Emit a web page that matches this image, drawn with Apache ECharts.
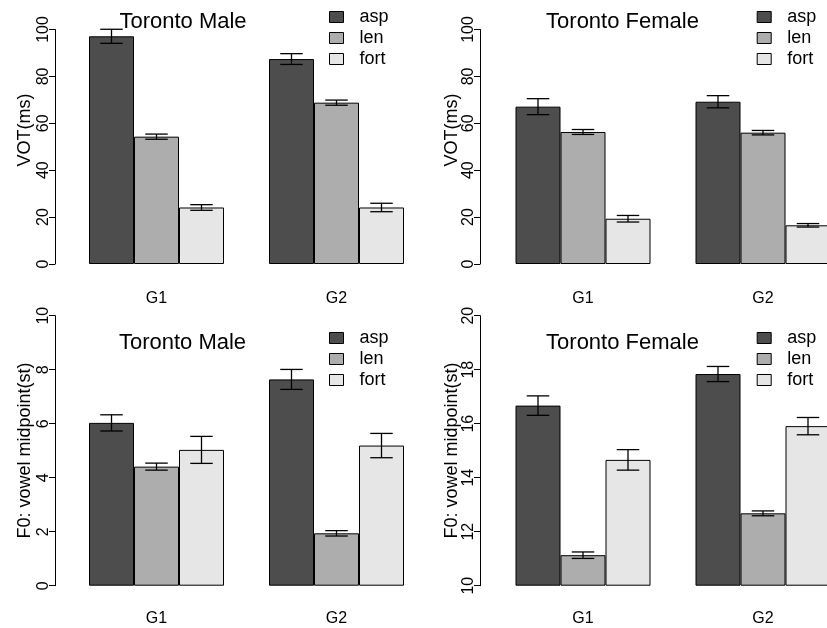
<!DOCTYPE html>
<html>
<head>
<meta charset="utf-8">
<script src="https://cdn.jsdelivr.net/npm/echarts@6/dist/echarts.min.js"></script>
<style>
html,body{margin:0;padding:0;background:#fff;}
#chart{width:827px;height:628px;}
</style>
</head>
<body>
<div id="chart"></div>
<script>
// ---- data ----
const categories = ['G1', 'G2'];
const seriesNames = ['asp', 'len', 'fort'];
const seriesColors = ['#4d4d4d', '#adadad', '#e6e6e6'];

// rows: asp, len, fort ; columns: G1, G2
const maleVotMean   = [[97.1, 87.4], [54.3, 68.8], [24.1, 24.1]];
const maleVotErr    = [[3.0, 2.3], [1.1, 1.1], [1.2, 1.8]];
const femaleVotMean = [[67.1, 69.2], [56.3, 56.0], [19.3, 16.5]];
const femaleVotErr  = [[3.4, 2.6], [1.05, 0.95], [1.4, 0.75]];
const maleF0Mean    = [[6.03, 7.64], [4.41, 1.94], [5.03, 5.19]];
const maleF0Err     = [[0.30, 0.37], [0.13, 0.10], [0.50, 0.45]];
const femaleF0Mean  = [[16.67, 17.84], [11.13, 12.68], [14.66, 15.91]];
const femaleF0Err   = [[0.36, 0.28], [0.12, 0.09], [0.38, 0.32]];

const votTicks = [0, 100, 20];     // min, max, interval
const maleF0Ticks = [0, 10, 2];
const femaleF0Ticks = [10, 20, 2];

const panelTitles = ['Toronto Male', 'Toronto Female', 'Toronto Male', 'Toronto Female'];
const yTitles = ['VOT(ms)', 'VOT(ms)', 'F0: vowel midpoint(st)', 'F0: vowel midpoint(st)'];

// ---- layout ----
const FONT = 'Liberation Sans, Arial, Helvetica, sans-serif';
const panels = [
  {mean: maleVotMean, err: maleVotErr, ticks: votTicks, grid: {left: 66.5, top: 29.5, width: 360, height: 234.5}, offset: 11.5, labelMargin: 27, legend: {left: 329, top: 8}, title: [183, 22], ytitle: [25, 130]},
  {mean: femaleVotMean, err: femaleVotErr, ticks: votTicks, grid: {left: 493, top: 29.5, width: 360, height: 234.5}, offset: 13, labelMargin: 27, legend: {left: 756.7, top: 8}, title: [622.5, 22], ytitle: [451.7, 130]},
  {mean: maleF0Mean, err: maleF0Err, ticks: maleF0Ticks, grid: {left: 66.5, top: 315.7, width: 360, height: 270}, offset: 11.5, labelMargin: 25, legend: {left: 329, top: 329}, title: [182.5, 343], ytitle: [25, 450.5]},
  {mean: femaleF0Mean, err: femaleF0Err, ticks: femaleF0Ticks, grid: {left: 493, top: 315.7, width: 360, height: 270}, offset: 13, labelMargin: 25, legend: {left: 756.7, top: 329}, title: [622.5, 343], ytitle: [451.7, 450.5]}
];

const grids = [], xAxes = [], yAxes = [], series = [], legends = [], graphics = [];

function errRender(k) {
  return function (params, api) {
    const c = api.value(0), lo = api.value(1), hi = api.value(2);
    const band = api.size([1, 0])[0];
    const bw = band * 0.25;
    const x = api.coord([c, lo])[0] + (k - 1) * bw;
    const yl = api.coord([c, lo])[1];
    const yh = api.coord([c, hi])[1];
    const hw = bw / 4;
    const st = {stroke: '#000', lineWidth: 1.3};
    return {
      type: 'group',
      children: [
        {type: 'line', shape: {x1: x, y1: yl, x2: x, y2: yh}, style: st},
        {type: 'line', shape: {x1: x - hw, y1: yl, x2: x + hw, y2: yl}, style: st},
        {type: 'line', shape: {x1: x - hw, y1: yh, x2: x + hw, y2: yh}, style: st}
      ]
    };
  };
}

panels.forEach(function (p, i) {
  grids.push(Object.assign({containLabel: false, outerBoundsMode: 'none'}, p.grid));
  xAxes.push({
    type: 'category', gridIndex: i, data: categories,
    axisLine: {show: false}, axisTick: {show: false}, splitLine: {show: false},
    axisLabel: {color: '#000', fontFamily: FONT, fontSize: 16, margin: p.labelMargin}
  });
  yAxes.push({
    type: 'value', gridIndex: i, min: p.ticks[0], max: p.ticks[1], interval: p.ticks[2],
    startValue: p.ticks[0],
    offset: p.offset,
    axisLine: {show: true, lineStyle: {color: '#000', width: 1}},
    axisTick: {show: true, inside: false, length: 6, lineStyle: {color: '#000'}},
    splitLine: {show: false},
    axisLabel: {color: '#000', fontFamily: FONT, fontSize: 16, rotate: 90, margin: 3}
  });
  seriesNames.forEach(function (name, k) {
    series.push({
      type: 'bar', name: name, xAxisIndex: i, yAxisIndex: i,
      data: p.mean[k], barWidth: '25%', barGap: '0%', clip: true,
      itemStyle: {color: seriesColors[k], borderColor: '#000', borderWidth: 1},
      emphasis: {disabled: true}, silent: true
    });
  });
  seriesNames.forEach(function (name, k) {
    series.push({
      type: 'custom', xAxisIndex: i, yAxisIndex: i, silent: true,
      renderItem: errRender(k),
      encode: {x: 0, y: [1, 2]},
      data: p.mean[k].map(function (m, c) { return [c, m - p.err[k][c], m + p.err[k][c]]; }),
      z: 10
    });
  });
  legends.push({
    orient: 'vertical', left: p.legend.left, top: p.legend.top, padding: 0,
    data: seriesNames, icon: 'rect', itemWidth: 14, itemHeight: 11, itemGap: 3,
    selectedMode: false,
    itemStyle: {borderColor: '#000', borderWidth: 1},
    textStyle: {color: '#000', fontFamily: FONT, fontSize: 18, lineHeight: 18, padding: [0, 0, 0, 11]}
  });
  graphics.push({
    type: 'text', x: p.title[0], y: p.title[1],
    style: {text: panelTitles[i], fill: '#000', font: '22px ' + FONT, textAlign: 'center', textVerticalAlign: 'middle'}
  });
  graphics.push({
    type: 'text', x: p.ytitle[0], y: p.ytitle[1], rotation: Math.PI / 2,
    style: {text: yTitles[i], fill: '#000', font: '18px ' + FONT, textAlign: 'center', textVerticalAlign: 'middle'}
  });
});

const chart = echarts.init(document.getElementById('chart'), null, {renderer: 'canvas'});
chart.setOption({
  animation: false,
  backgroundColor: '#fff',
  grid: grids, xAxis: xAxes, yAxis: yAxes, series: series, legend: legends, graphic: graphics
});
</script>
</body>
</html>
